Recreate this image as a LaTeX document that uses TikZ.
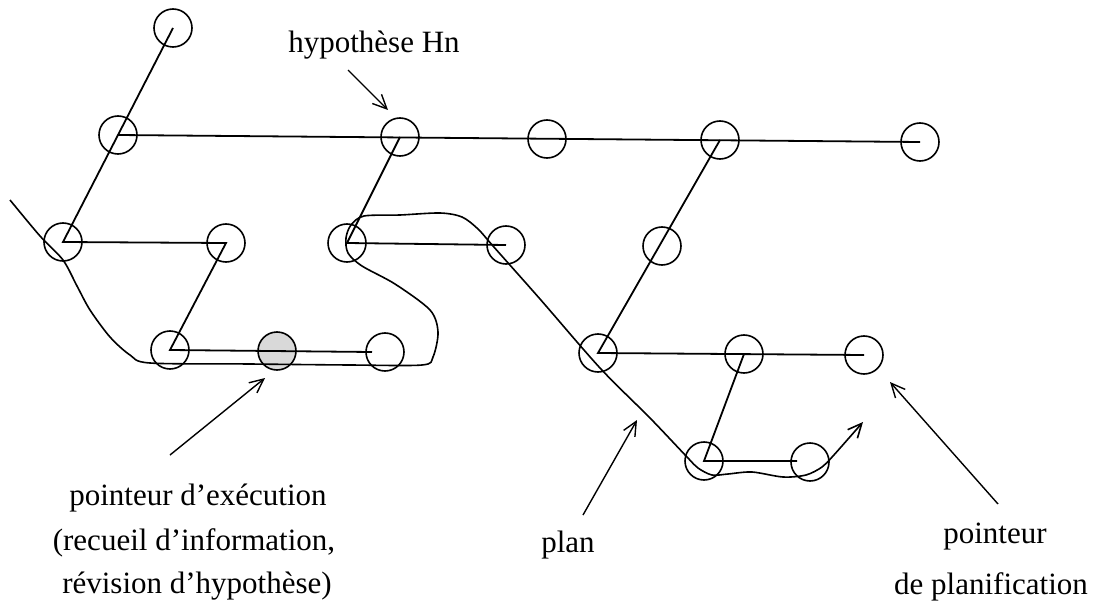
\documentclass[tikz,border=0pt]{standalone}
\usepackage{fontspec}
\setmainfont{Liberation Serif}
\usetikzlibrary{arrows.meta,calc}
\begin{document}
\begin{tikzpicture}[x=1pt,y=-1pt,
  nd/.style={circle,draw,line width=1.6pt,minimum size=38pt,inner sep=0pt},
  ndshade/.style={nd,fill=gray!30},
  edge/.style={line width=1.8pt,line join=miter},
  planpath/.style={line width=1.6pt},
  ptr/.style={line width=1.4pt,-{Straight Barb[length=14pt,width=13pt]}},
  lbl/.style={font=\fontsize{31}{37}\selectfont,inner sep=0pt,anchor=base}]
\useasboundingbox (0,0) rectangle (1103,615);
% nodes
\node[nd] (A) at (173,28) {};
\node[nd] (B) at (118,135) {};
\node[nd] (C) at (400,137) {};
\node[nd] (D) at (547,139) {};
\node[nd] (E) at (720,140) {};
\node[nd] (F) at (920,142) {};
\node[nd] (G) at (63,242) {};
\node[nd] (H) at (226,243) {};
\node[nd] (I) at (347,243) {};
\node[nd] (J) at (506,245) {};
\node[nd] (K) at (662,246) {};
\node[nd] (L) at (170,350) {};
\node[ndshade] (M) at (277,351) {};
\node[nd] (N) at (385,352) {};
\node[nd] (O) at (598,353) {};
\node[nd] (P) at (744,354) {};
\node[nd] (Q) at (864,355) {};
\node[nd] (R) at (704,461) {};
\node[nd] (S) at (810,462) {};
\coordinate (Nend) at (372,352);
\coordinate (Send) at (797,461);
% tree edges
\draw[edge] (A.center) -- (G.center) -- (H.center) -- (L.center) -- (Nend);
\draw[edge] (B.center) -- (F.center);
\draw[edge] (C.center) -- (I.center) -- (J.center);
\draw[edge] (E.center) -- (O.center) -- (Q.center);
\draw[edge] (P.center) -- (R.center) -- (Send);
% plan path
\draw[planpath,-{Straight Barb[length=14pt,width=13pt]}] plot[smooth,tension=0.5] coordinates {
 (10,200) (40,236) (63,260) (77,286) (90,310) (110,337) (130,355) (150,363)
 (250,364) (350,365) (422,365) (433,357) (438,332) (430,310) (395,284)
 (362,266) (348,253) (346,238) (351,225) (364,216) (400,215) (440,213)
 (462,217) (478,229) (493,246) (540,299) (600,368) (650,418) (687,457)
 (698,468) (712,475) (728,474) (752,472) (783,477) (806,475) (822,467)
 (833,456) (863,422)};
% label arrows
\coordinate (h1) at (348,70);  \coordinate (h2) at (388,110);
\coordinate (e1) at (170,455); \coordinate (e2) at (265,378);
\coordinate (p1) at (583,515); \coordinate (p2) at (637,420);
\coordinate (q1) at (998,504); \coordinate (q2) at (890,382);
\draw[ptr] (h1) -- (h2);
\draw[ptr] (e1) -- (e2);
\draw[ptr] (p1) -- (p2);
\draw[ptr] (q1) -- (q2);
% labels
\node[lbl] (tH) at (374,53) {hypothèse Hn};
\node[lbl] (tE1) at (198,505) {pointeur d’exécution};
\node[lbl] (tE2) at (194,550) {(recueil d’information,};
\node[lbl] (tE3) at (197,593) {révision d’hypothèse)};
\node[lbl] (tP) at (568,552) {plan};
\node[lbl] (tQ1) at (995,543) {pointeur};
\node[lbl] (tQ2) at (991,594) {de planification};
\end{tikzpicture}
\end{document}
